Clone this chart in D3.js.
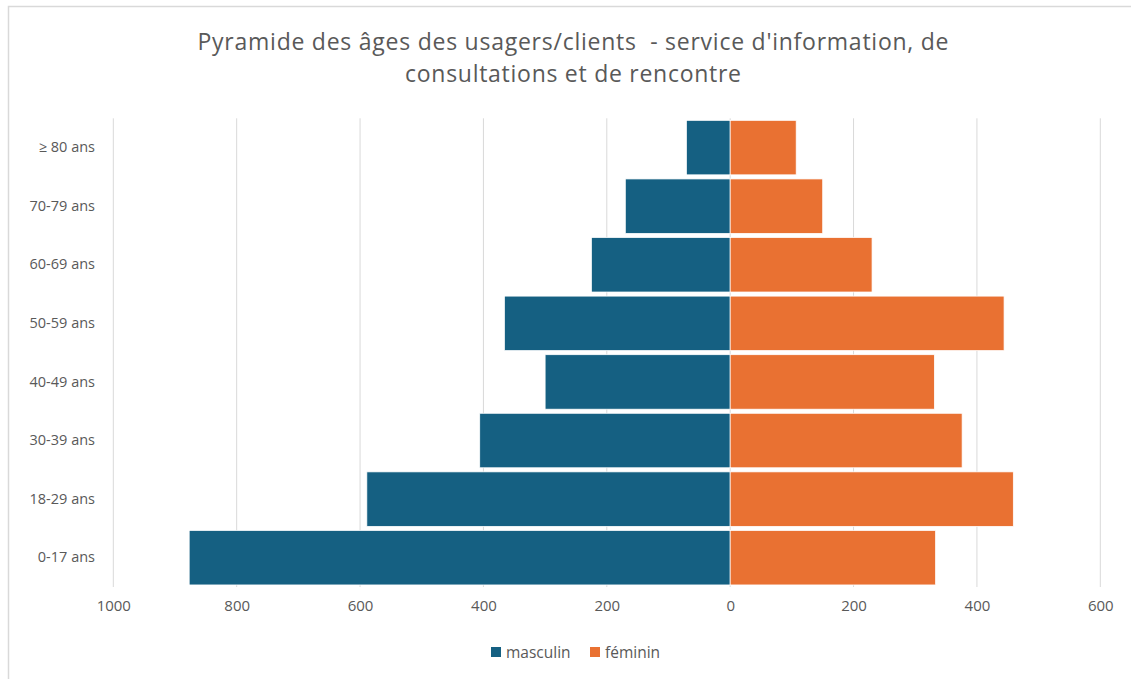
<!DOCTYPE html>
<html>
<head>
<meta charset="utf-8">
<script src="https://cdn.jsdelivr.net/npm/d3@7"></script>
<style>
  html, body { margin: 0; padding: 0; background: #fff; }
  svg { display: block; font-family: "Open Sans", Lato, sans-serif; }
</style>
</head>
<body>
<svg id="chart" width="1131" height="679"></svg>
<script>
const categories = ["0-17 ans", "18-29 ans", "30-39 ans", "40-49 ans", "50-59 ans", "60-69 ans", "70-79 ans", "≥ 80 ans"];
const masculin = [877, 589, 406, 300, 366, 225, 170, 71];
const feminin = [333, 459, 376, 331, 444, 230, 150, 107];
const tickValues = [-1000, -800, -600, -400, -200, 0, 200, 400, 600];
const seriesNames = ["masculin", "féminin"];
const colors = ["#156082", "#E97132"];
const titleLines = ["Pyramide des âges des usagers/clients  - service d'information, de", "consultations et de rencontre"];

const svg = d3.select("#chart");
const textColor = "#595959";
const fontFam = "'Open Sans', Lato, sans-serif";

// chart border
svg.append("rect").attr("x", 8.5).attr("y", 6.5).attr("width", 1140).attr("height", 700)
  .attr("fill", "#fff").attr("stroke", "#d9d9d9").attr("stroke-width", 1.5);

// title
svg.append("text").attr("x", 573).attr("y", 50).attr("text-anchor", "middle")
  .attr("fill", textColor).attr("font-size", 23).style("white-space", "pre")
  .attr("textLength", 751).attr("lengthAdjust", "spacing")
  .text(titleLines[0]);
svg.append("text").attr("x", 573).attr("y", 82).attr("text-anchor", "middle")
  .attr("fill", textColor).attr("font-size", 23)
  .attr("textLength", 336).attr("lengthAdjust", "spacing")
  .text(titleLines[1]);

const x = d3.scaleLinear().domain([-1000, 600]).range([113.3, 1100.3]);
const y = d3.scaleBand().domain(categories.slice().reverse()).range([118.3, 587]).paddingInner(0.07).paddingOuter(0.035);

// gridlines
svg.append("g").selectAll("line").data(tickValues).join("line")
  .attr("x1", d => x(d)).attr("x2", d => x(d))
  .attr("y1", 118.3).attr("y2", 587)
  .attr("stroke", "#d9d9d9").attr("stroke-width", 1);

// x axis
const xAxis = d3.axisBottom(x).tickValues(tickValues).tickSize(0).tickPadding(0).tickFormat(d => Math.abs(d));
const gx = svg.append("g").attr("transform", "translate(0,600)").call(xAxis);
gx.select(".domain").remove();
gx.selectAll("text").attr("fill", textColor).attr("font-size", 15).attr("font-family", fontFam);

// y axis
const yAxis = d3.axisLeft(y).tickSize(0).tickPadding(0);
const gy = svg.append("g").attr("transform", "translate(95,0)").call(yAxis);
gy.select(".domain").remove();
gy.selectAll("text").attr("fill", textColor).attr("font-size", 14.5).attr("font-family", fontFam);

// bars
svg.append("g").selectAll("rect").data(categories).join("rect")
  .attr("x", (d, i) => x(-masculin[i]))
  .attr("width", (d, i) => x(0) - x(-masculin[i]))
  .attr("y", d => y(d)).attr("height", y.bandwidth())
  .attr("fill", colors[0]).attr("stroke", "#fff").attr("stroke-width", 0.75);

svg.append("g").selectAll("rect").data(categories).join("rect")
  .attr("x", x(0))
  .attr("width", (d, i) => x(feminin[i]) - x(0))
  .attr("y", d => y(d)).attr("height", y.bandwidth())
  .attr("fill", colors[1]).attr("stroke", "#fff").attr("stroke-width", 0.75);

// legend
const legendX = [491, 590];
const lg = svg.append("g");
seriesNames.forEach((name, i) => {
  lg.append("rect").attr("x", legendX[i]).attr("y", 647).attr("width", 10).attr("height", 10).attr("fill", colors[i]);
  lg.append("text").attr("x", legendX[i] + 15).attr("y", 657.5).attr("fill", textColor)
    .attr("font-size", 15.5).text(name);
});
</script>
</body>
</html>
